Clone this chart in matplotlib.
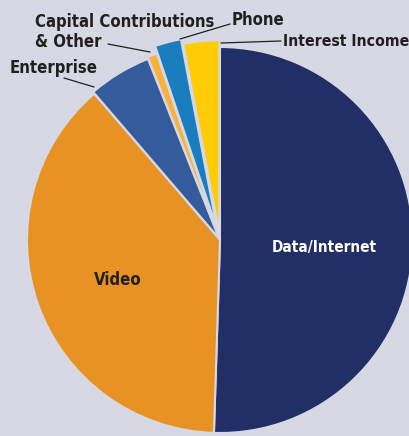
import matplotlib.pyplot as plt

# revenue shares (percent), clockwise from top
categories = ['Data/Internet', 'Video', 'Enterprise',
              'Capital Contributions\n& Other', 'Phone', 'Interest Income']
shares = [50.5, 38.2, 5.3, 0.8, 2.2, 3.0]
colors = ['#222F66', '#E89223', '#345B9B', '#F9B13B', '#1A7DBE', '#FFCC05']
explode = [0, 0, 0.01, 0.02, 0.06, 0.035]

bg = '#D6D8E3'
W, H = 410, 436
CX, CY, R = 220, 240, 193


def px(x, y):
    # pixel position (from top-left) -> data coords
    return (x - CX) / R, (CY - y) / R


fig = plt.figure(figsize=(W / 100, H / 100), dpi=100)
fig.patch.set_facecolor(bg)
ax = fig.add_axes([0, 0, 1, 1])
ax.set_facecolor(bg)

ax.pie(shares, colors=colors, explode=explode, startangle=90,
       counterclock=False, radius=1,
       wedgeprops=dict(edgecolor=bg, linewidth=1.5))

ax.set_xlim(-CX / R, (W - CX) / R)
ax.set_ylim(-(H - CY) / R, CY / R)
ax.set_aspect('auto')
ax.axis('off')

font = dict(family='DejaVu Sans', fontweight='bold', fontstretch='condensed')

ax.text(*px(324, 247), categories[0], color='white', fontsize=11,
        ha='center', va='center', **font)
ax.text(*px(118, 280), categories[1], color='#231F20', fontsize=12,
        ha='center', va='center', **font)

line = dict(arrowstyle='-', color='#231F20', lw=0.9, shrinkA=0, shrinkB=0)

ax.text(*px(10, 68), categories[2], ha='left', va='center', fontsize=12,
        color='#231F20', **font)
ax.annotate('', xy=px(94, 87), xytext=px(64, 78), arrowprops=line)

ax.text(*px(35, 32), categories[3], ha='left', va='center', fontsize=12,
        color='#231F20', linespacing=1.1, **font)
ax.annotate('', xy=px(150, 52), xytext=px(108, 44), arrowprops=line)

ax.text(*px(232, 20), categories[4], ha='left', va='center', fontsize=12,
        color='#231F20', **font)
ax.annotate('', xy=px(180, 39), xytext=px(230, 24), arrowprops=line)

ax.text(*px(283, 42), categories[5], ha='left', va='center', fontsize=11.3,
        color='#231F20', **font)
ax.annotate('', xy=px(221, 43), xytext=px(281, 41), arrowprops=line)

fig.savefig('out.png', dpi=100, facecolor=bg)
